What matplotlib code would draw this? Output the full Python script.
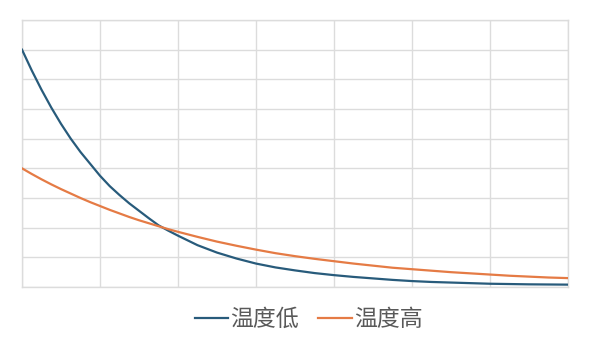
import numpy as np
import matplotlib
matplotlib.use("Agg")
import matplotlib.pyplot as plt

plt.rcParams['font.family'] = ['Noto Sans CJK SC', 'DejaVu Sans']

# values (finer steps where the curves bend most)
x_vals = [0, 0.125, 0.25, 0.375, 0.5, 0.625, 0.75, 0.875, 1, 1.125, 1.25, 1.375,
          1.5, 1.625, 1.75, 1.875, 2, 2.25, 2.5, 2.75, 3, 3.25, 3.5, 3.75, 4,
          4.25, 4.5, 4.75, 5, 5.25, 5.5, 5.75, 6, 6.25, 6.5, 6.75, 7]
low_temp = [8.0, 7.3, 6.65, 6.05, 5.5, 5.0, 4.55, 4.15, 3.75, 3.4, 3.1, 2.82,
            2.57, 2.32, 2.08, 1.9, 1.73, 1.41, 1.16, 0.96, 0.79, 0.66, 0.56,
            0.47, 0.40, 0.34, 0.29, 0.24, 0.20, 0.17, 0.15, 0.13, 0.11, 0.10,
            0.09, 0.085, 0.08]
high_temp = [4.0, 3.81, 3.63, 3.46, 3.30, 3.15, 3.0, 2.86, 2.73, 2.60, 2.48, 2.36,
             2.25, 2.15, 2.05, 1.95, 1.86, 1.69, 1.53, 1.39, 1.26, 1.14, 1.04,
             0.95, 0.87, 0.79, 0.72, 0.65, 0.60, 0.55, 0.50, 0.46, 0.42, 0.38,
             0.35, 0.32, 0.30]
labels = ['温度低', '温度高']

fig = plt.figure(figsize=(5.9, 3.42), dpi=100)
ax = fig.add_axes([0.0373, 0.1608, 0.9254, 0.7807])

ax.plot(x_vals, low_temp, color='#285b7b', lw=1.6, label=labels[0], zorder=3)
ax.plot(x_vals, high_temp, color='#e57b45', lw=1.6, label=labels[1], zorder=3)

ax.set_xlim(0, 7)
ax.set_ylim(0, 9)
ax.set_xticks(np.arange(0, 8, 1))
ax.set_yticks(np.arange(0, 10, 1))
ax.tick_params(length=0, labelbottom=False, labelleft=False)
ax.grid(True, color='#dcdcdc', lw=1)
for s in ax.spines.values():
    s.set_color('#dcdcdc')
    s.set_linewidth(1)

leg = fig.legend(loc='center', bbox_to_anchor=(0.523, 0.067), ncol=2, frameon=False,
                 fontsize=16.5, handlelength=1.45, handletextpad=0.1, columnspacing=0.85)
for t in leg.get_texts():
    t.set_color('#595959')

fig.savefig('out.png', dpi=100)
